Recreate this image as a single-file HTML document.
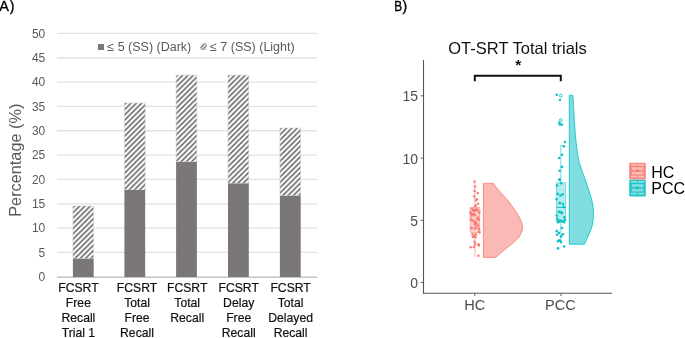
<!DOCTYPE html>
<html><head><meta charset="utf-8"><style>
html,body{margin:0;padding:0;background:#fff;width:685px;height:338px;overflow:hidden}
svg{display:block;will-change:transform;filter:blur(0.3px);font-family:"Liberation Sans",sans-serif}
.tk{font-size:12px;fill:#595959}
.lg{font-size:12.5px;fill:#595959}
.cat{font-size:12.2px;fill:#111;stroke:#111;stroke-width:0.2px}
.ytl{font-size:16.3px;fill:#595959}
.pl{font-size:14px;fill:#000;stroke:#000;stroke-width:0.35px}
.ttl{font-size:16.5px;fill:#111}
.ast{font-size:15.5px;fill:#111;font-weight:bold}
.tkb{font-size:14px;fill:#4d4d4d}
.tkx{font-size:14.6px;fill:#4d4d4d}
.lgb{font-size:16px;fill:#000}
</style></head><body>
<svg width="685" height="338" viewBox="0 0 685 338">
<defs>
<pattern id="hatch" patternUnits="userSpaceOnUse" width="5.3" height="5.3">
<rect width="5.3" height="5.3" fill="#f9f9f9"/>
<path d="M-1.325,1.325 L1.325,-1.325 M0,5.3 L5.3,0 M3.975,6.625 L6.625,3.975" stroke="#575353" stroke-width="1.35"/>
</pattern>
<pattern id="hatch2" patternUnits="userSpaceOnUse" width="3" height="3">
<rect width="3" height="3" fill="#e0e0e0"/>
<path d="M-0.75,0.75 L0.75,-0.75 M0,3 L3,0 M2.25,3.75 L3.75,2.25" stroke="#8a8a8a" stroke-width="1"/>
</pattern>
</defs>
<rect width="685" height="338" fill="#fff"/>
<line x1="57" y1="252.46" x2="317" y2="252.46" stroke="#e2e2e2" stroke-width="1.3"/>
<line x1="57" y1="228.12" x2="317" y2="228.12" stroke="#e2e2e2" stroke-width="1.3"/>
<line x1="57" y1="203.78" x2="317" y2="203.78" stroke="#e2e2e2" stroke-width="1.3"/>
<line x1="57" y1="179.44" x2="317" y2="179.44" stroke="#e2e2e2" stroke-width="1.3"/>
<line x1="57" y1="155.10" x2="317" y2="155.10" stroke="#e2e2e2" stroke-width="1.3"/>
<line x1="57" y1="130.76" x2="317" y2="130.76" stroke="#e2e2e2" stroke-width="1.3"/>
<line x1="57" y1="106.42" x2="317" y2="106.42" stroke="#e2e2e2" stroke-width="1.3"/>
<line x1="57" y1="82.08" x2="317" y2="82.08" stroke="#e2e2e2" stroke-width="1.3"/>
<line x1="57" y1="57.74" x2="317" y2="57.74" stroke="#e2e2e2" stroke-width="1.3"/>
<line x1="57" y1="33.40" x2="317" y2="33.40" stroke="#e2e2e2" stroke-width="1.3"/>
<line x1="57" y1="277.2" x2="317" y2="277.2" stroke="#c4c4c4" stroke-width="1.4"/>
<text x="45.3" y="281.1" text-anchor="end" class="tk">0</text>
<text x="45.3" y="256.8" text-anchor="end" class="tk">5</text>
<text x="45.3" y="232.4" text-anchor="end" class="tk">10</text>
<text x="45.3" y="208.1" text-anchor="end" class="tk">15</text>
<text x="45.3" y="183.7" text-anchor="end" class="tk">20</text>
<text x="45.3" y="159.4" text-anchor="end" class="tk">25</text>
<text x="45.3" y="135.1" text-anchor="end" class="tk">30</text>
<text x="45.3" y="110.7" text-anchor="end" class="tk">35</text>
<text x="45.3" y="86.4" text-anchor="end" class="tk">40</text>
<text x="45.3" y="62.0" text-anchor="end" class="tk">45</text>
<text x="45.3" y="37.7" text-anchor="end" class="tk">50</text>
<pattern id="h0" patternUnits="userSpaceOnUse" x="74.40" y="206.00" width="5.3" height="5.3"><rect width="5.3" height="5.3" fill="#f9f9f9"/><path d="M-1.325,1.325 L1.325,-1.325 M0,5.3 L5.3,0 M3.975,6.625 L6.625,3.975" stroke="#575353" stroke-width="1.35"/></pattern>
<rect x="72.9" y="206.0" width="20.8" height="52.8" fill="url(#h0)" stroke="#d4d4d4" stroke-width="0.6"/>
<rect x="72.9" y="258.8" width="20.8" height="18.2" fill="#7b7777"/>
<pattern id="h1" patternUnits="userSpaceOnUse" x="125.90" y="103.00" width="5.3" height="5.3"><rect width="5.3" height="5.3" fill="#f9f9f9"/><path d="M-1.325,1.325 L1.325,-1.325 M0,5.3 L5.3,0 M3.975,6.625 L6.625,3.975" stroke="#575353" stroke-width="1.35"/></pattern>
<rect x="124.4" y="103.0" width="20.8" height="87.0" fill="url(#h1)" stroke="#d4d4d4" stroke-width="0.6"/>
<rect x="124.4" y="190.0" width="20.8" height="87.0" fill="#7b7777"/>
<pattern id="h2" patternUnits="userSpaceOnUse" x="177.60" y="75.10" width="5.3" height="5.3"><rect width="5.3" height="5.3" fill="#f9f9f9"/><path d="M-1.325,1.325 L1.325,-1.325 M0,5.3 L5.3,0 M3.975,6.625 L6.625,3.975" stroke="#575353" stroke-width="1.35"/></pattern>
<rect x="176.1" y="75.1" width="20.8" height="86.9" fill="url(#h2)" stroke="#d4d4d4" stroke-width="0.6"/>
<rect x="176.1" y="162.0" width="20.8" height="115.0" fill="#7b7777"/>
<pattern id="h3" patternUnits="userSpaceOnUse" x="229.50" y="75.10" width="5.3" height="5.3"><rect width="5.3" height="5.3" fill="#f9f9f9"/><path d="M-1.325,1.325 L1.325,-1.325 M0,5.3 L5.3,0 M3.975,6.625 L6.625,3.975" stroke="#575353" stroke-width="1.35"/></pattern>
<rect x="228.0" y="75.1" width="20.8" height="108.4" fill="url(#h3)" stroke="#d4d4d4" stroke-width="0.6"/>
<rect x="228.0" y="183.5" width="20.8" height="93.5" fill="#7b7777"/>
<pattern id="h4" patternUnits="userSpaceOnUse" x="281.40" y="128.00" width="5.3" height="5.3"><rect width="5.3" height="5.3" fill="#f9f9f9"/><path d="M-1.325,1.325 L1.325,-1.325 M0,5.3 L5.3,0 M3.975,6.625 L6.625,3.975" stroke="#575353" stroke-width="1.35"/></pattern>
<rect x="279.9" y="128.0" width="20.8" height="67.8" fill="url(#h4)" stroke="#d4d4d4" stroke-width="0.6"/>
<rect x="279.9" y="195.8" width="20.8" height="81.2" fill="#7b7777"/>
<rect x="98" y="44" width="6" height="6" fill="#7b7777"/>
<text x="107.3" y="51.3" class="lg">≤ 5 (SS) (Dark)</text>
<clipPath id="lgc"><rect x="200.3" y="43.3" width="6.6" height="6.6"/></clipPath>
<g clip-path="url(#lgc)"><rect x="200.3" y="43.3" width="6.6" height="6.6" fill="#e6e6e6"/><path d="M199.8,48.6 L205.6,42.8 M201.6,50.6 L207.6,44.6" stroke="#7e7e7e" stroke-width="1.3"/></g>
<text x="210" y="51.3" class="lg">≤ 7 (SS) (Light)</text>
<text x="78.4" y="292.2" text-anchor="middle" class="cat">FCSRT</text>
<text x="78.4" y="307.2" text-anchor="middle" class="cat">Free</text>
<text x="78.4" y="322.3" text-anchor="middle" class="cat">Recall</text>
<text x="78.4" y="337.4" text-anchor="middle" class="cat">Trial 1</text>
<text x="137.0" y="292.2" text-anchor="middle" class="cat">FCSRT</text>
<text x="137.0" y="307.2" text-anchor="middle" class="cat">Total</text>
<text x="137.0" y="322.3" text-anchor="middle" class="cat">Free</text>
<text x="137.0" y="337.4" text-anchor="middle" class="cat">Recall</text>
<text x="187.2" y="292.2" text-anchor="middle" class="cat">FCSRT</text>
<text x="187.2" y="307.2" text-anchor="middle" class="cat">Total</text>
<text x="187.2" y="322.3" text-anchor="middle" class="cat">Recall</text>
<text x="238.7" y="292.2" text-anchor="middle" class="cat">FCSRT</text>
<text x="238.7" y="307.2" text-anchor="middle" class="cat">Delay</text>
<text x="238.7" y="322.3" text-anchor="middle" class="cat">Free</text>
<text x="238.7" y="337.4" text-anchor="middle" class="cat">Recall</text>
<text x="290.6" y="292.2" text-anchor="middle" class="cat">FCSRT</text>
<text x="290.6" y="307.2" text-anchor="middle" class="cat">Total</text>
<text x="290.6" y="322.3" text-anchor="middle" class="cat">Delayed</text>
<text x="290.6" y="337.4" text-anchor="middle" class="cat">Recall</text>
<text transform="translate(21.4,160.2) rotate(-90)" text-anchor="middle" class="ytl">Percentage (%)</text>
<text x="-0.7" y="11.3" class="pl" style="font-size:14.5px">A</text>
<text x="9.8" y="10.8" class="pl">)</text>
<text transform="translate(394.3,11.3) scale(0.84,1)" class="pl">B</text>
<text x="402.4" y="11.1" class="pl">)</text>
<text x="517.5" y="54.2" text-anchor="middle" class="ttl">OT-SRT Total trials</text>
<text x="518.2" y="69.6" text-anchor="middle" class="ast">*</text>
<path d="M474.8,81.2 V75.7 H560.8 V81.2" fill="none" stroke="#111" stroke-width="2"/>
<path d="M483.4,183.4 L493.5,183.4 C494.2,184.3 495.8,186.8 497.5,188.9 C499.2,191.0 501.8,193.8 503.7,196.0 C505.6,198.2 507.3,200.0 509.1,202.2 C510.9,204.4 512.9,207.1 514.4,209.3 C515.9,211.5 517.2,213.4 518.4,215.5 C519.6,217.6 520.7,220.2 521.4,222.0 C522.1,223.8 522.4,225.1 522.5,226.6 C522.6,228.1 522.4,229.4 521.9,231.1 C521.4,232.8 520.6,234.9 519.2,236.8 C517.8,238.7 515.4,240.9 513.6,242.6 C511.8,244.3 510.1,245.3 508.2,246.8 C506.3,248.3 504.1,250.0 502.0,251.8 C499.9,253.6 496.8,256.5 495.8,257.4 L483.4,257.4 Z" fill="#fbb9b5" stroke="#f8766d" stroke-width="0.8"/>
<path d="M569.3,95.3 L572.8,95.3 C572.9,96.5 573.2,99.3 573.4,102.7 C573.6,106.1 573.9,111.2 574.1,115.5 C574.4,119.8 574.5,123.6 574.9,128.2 C575.2,132.8 575.6,138.1 576.2,143.1 C576.8,148.1 577.6,154.2 578.3,158.0 C579.0,161.8 579.6,163.3 580.4,166.0 C581.2,168.7 582.2,171.2 583.2,174.2 C584.2,177.1 585.6,180.5 586.7,183.7 C587.8,186.9 588.9,190.5 589.7,193.2 C590.6,195.9 591.2,197.4 591.8,200.0 C592.4,202.6 593.0,205.9 593.3,208.9 C593.5,211.9 593.5,215.1 593.3,217.8 C593.1,220.5 592.9,222.7 592.3,225.2 C591.7,227.7 590.6,230.2 589.7,232.6 C588.8,234.9 587.6,237.4 586.7,239.3 C585.8,241.2 584.9,243.4 584.5,244.2 L569.3,244.2 Z" fill="#80dddf" stroke="#00bfc4" stroke-width="0.8"/>
<line x1="474.9" y1="181" x2="474.9" y2="257.4" stroke="#f8766d" stroke-width="0.7" opacity="0.8"/>
<rect x="470.1" y="207.3" width="9.7" height="25.2" fill="#fccfcc" stroke="#f8766d" stroke-width="0.6" stroke-opacity="0.7"/>
<line x1="470.1" y1="220.2" x2="479.8" y2="220.2" stroke="#f8766d" stroke-width="0.6" opacity="0.7"/>
<line x1="560.8" y1="145.6" x2="560.8" y2="244" stroke="#00bfc4" stroke-width="0.7" opacity="0.8"/>
<line x1="560.8" y1="145.6" x2="563.5" y2="145.6" stroke="#00bfc4" stroke-width="0.7" opacity="0.8"/>
<rect x="556.4" y="182.8" width="9.4" height="38.2" fill="#b3ecee" stroke="#00bfc4" stroke-width="0.6" stroke-opacity="0.7"/>
<line x1="556.4" y1="207.4" x2="565.8" y2="207.4" stroke="#00bfc4" stroke-width="1" opacity="0.9"/>
<circle cx="474.5" cy="181.5" r="1.3" fill="#f8766d" fill-opacity="0.9"/>
<circle cx="475.0" cy="186.5" r="1.3" fill="#f8766d" fill-opacity="0.9"/>
<circle cx="474.5" cy="191.0" r="1.3" fill="#f8766d" fill-opacity="0.9"/>
<circle cx="477.8" cy="193.1" r="1.3" fill="#f8766d" fill-opacity="0.9"/>
<circle cx="474.2" cy="196.3" r="1.3" fill="#f8766d" fill-opacity="0.9"/>
<circle cx="476.8" cy="199.3" r="1.3" fill="#f8766d" fill-opacity="0.9"/>
<circle cx="476.0" cy="200.3" r="1.3" fill="#f8766d" fill-opacity="0.9"/>
<circle cx="478.1" cy="203.7" r="1.3" fill="#f8766d" fill-opacity="0.9"/>
<circle cx="475.3" cy="206.1" r="1.3" fill="#f8766d" fill-opacity="0.9"/>
<circle cx="475.5" cy="205.6" r="1.3" fill="#f8766d" fill-opacity="0.9"/>
<circle cx="470.5" cy="212.4" r="1.3" fill="#f8766d" fill-opacity="0.9"/>
<circle cx="479.4" cy="212.4" r="1.3" fill="#f8766d" fill-opacity="0.9"/>
<circle cx="474.6" cy="210.9" r="1.3" fill="#f8766d" fill-opacity="0.9"/>
<circle cx="477.6" cy="210.3" r="1.3" fill="#f8766d" fill-opacity="0.9"/>
<circle cx="472.5" cy="234.2" r="1.3" fill="#f8766d" fill-opacity="0.9"/>
<circle cx="474.2" cy="235.5" r="1.3" fill="#f8766d" fill-opacity="0.9"/>
<circle cx="476.0" cy="234.5" r="1.3" fill="#f8766d" fill-opacity="0.9"/>
<circle cx="473.0" cy="237.0" r="1.3" fill="#f8766d" fill-opacity="0.9"/>
<circle cx="475.5" cy="237.3" r="1.3" fill="#f8766d" fill-opacity="0.9"/>
<circle cx="474.6" cy="241.9" r="1.3" fill="#f8766d" fill-opacity="0.9"/>
<circle cx="475.0" cy="244.5" r="1.3" fill="#f8766d" fill-opacity="0.9"/>
<circle cx="478.5" cy="244.4" r="1.3" fill="#f8766d" fill-opacity="0.9"/>
<circle cx="478.9" cy="245.4" r="1.3" fill="#f8766d" fill-opacity="0.9"/>
<circle cx="470.7" cy="247.2" r="1.3" fill="#f8766d" fill-opacity="0.9"/>
<circle cx="473.9" cy="247.1" r="1.3" fill="#f8766d" fill-opacity="0.9"/>
<circle cx="478.5" cy="255.7" r="1.3" fill="#f8766d" fill-opacity="0.9"/>
<circle cx="474.7" cy="221.9" r="1.3" fill="#f8766d" fill-opacity="0.9"/>
<circle cx="478.7" cy="219.7" r="1.3" fill="#f8766d" fill-opacity="0.9"/>
<circle cx="475.2" cy="222.6" r="1.3" fill="#f8766d" fill-opacity="0.9"/>
<circle cx="472.4" cy="220.8" r="1.3" fill="#f8766d" fill-opacity="0.9"/>
<circle cx="476.2" cy="227.5" r="1.3" fill="#f8766d" fill-opacity="0.9"/>
<circle cx="471.6" cy="215.8" r="1.3" fill="#f8766d" fill-opacity="0.9"/>
<circle cx="471.6" cy="227.9" r="1.3" fill="#f8766d" fill-opacity="0.9"/>
<circle cx="476.8" cy="209.5" r="1.3" fill="#f8766d" fill-opacity="0.9"/>
<circle cx="479.2" cy="231.7" r="1.3" fill="#f8766d" fill-opacity="0.9"/>
<circle cx="476.4" cy="223.3" r="1.3" fill="#f8766d" fill-opacity="0.9"/>
<circle cx="472.2" cy="208.9" r="1.3" fill="#f8766d" fill-opacity="0.9"/>
<circle cx="475.3" cy="209.9" r="1.3" fill="#f8766d" fill-opacity="0.9"/>
<circle cx="472.4" cy="214.3" r="1.3" fill="#f8766d" fill-opacity="0.9"/>
<circle cx="471.1" cy="219.6" r="1.3" fill="#f8766d" fill-opacity="0.9"/>
<circle cx="474.6" cy="228.7" r="1.3" fill="#f8766d" fill-opacity="0.9"/>
<circle cx="475.3" cy="223.9" r="1.3" fill="#f8766d" fill-opacity="0.9"/>
<circle cx="475.1" cy="224.4" r="1.3" fill="#f8766d" fill-opacity="0.9"/>
<circle cx="474.7" cy="215.2" r="1.3" fill="#f8766d" fill-opacity="0.9"/>
<circle cx="479.4" cy="232.4" r="1.3" fill="#f8766d" fill-opacity="0.9"/>
<circle cx="478.0" cy="225.5" r="1.3" fill="#f8766d" fill-opacity="0.9"/>
<circle cx="473.5" cy="214.0" r="1.3" fill="#f8766d" fill-opacity="0.9"/>
<circle cx="473.3" cy="210.2" r="1.3" fill="#f8766d" fill-opacity="0.9"/>
<circle cx="477.4" cy="218.1" r="1.3" fill="#f8766d" fill-opacity="0.9"/>
<circle cx="478.1" cy="217.8" r="1.3" fill="#f8766d" fill-opacity="0.9"/>
<circle cx="479.0" cy="228.8" r="1.3" fill="#f8766d" fill-opacity="0.9"/>
<circle cx="470.8" cy="213.5" r="1.3" fill="#f8766d" fill-opacity="0.9"/>
<circle cx="556.8" cy="94.8" r="1.3" fill="#00bfc4" fill-opacity="0.95"/>
<circle cx="559.9" cy="100.0" r="1.3" fill="#00bfc4" fill-opacity="0.95"/>
<circle cx="559.3" cy="122.8" r="1.3" fill="#00bfc4" fill-opacity="0.95"/>
<circle cx="559.9" cy="124.6" r="1.3" fill="#00bfc4" fill-opacity="0.95"/>
<circle cx="561.8" cy="124.6" r="1.3" fill="#00bfc4" fill-opacity="0.95"/>
<circle cx="564.9" cy="142.0" r="1.3" fill="#00bfc4" fill-opacity="0.95"/>
<circle cx="563.8" cy="146.2" r="1.3" fill="#00bfc4" fill-opacity="0.95"/>
<circle cx="562.0" cy="154.7" r="1.3" fill="#00bfc4" fill-opacity="0.95"/>
<circle cx="559.2" cy="158.0" r="1.3" fill="#00bfc4" fill-opacity="0.95"/>
<circle cx="562.0" cy="166.9" r="1.3" fill="#00bfc4" fill-opacity="0.95"/>
<circle cx="559.6" cy="170.8" r="1.3" fill="#00bfc4" fill-opacity="0.95"/>
<circle cx="559.6" cy="179.3" r="1.3" fill="#00bfc4" fill-opacity="0.95"/>
<circle cx="559.6" cy="180.0" r="1.3" fill="#00bfc4" fill-opacity="0.95"/>
<circle cx="561.1" cy="183.3" r="1.3" fill="#00bfc4" fill-opacity="0.95"/>
<circle cx="557.0" cy="185.6" r="1.3" fill="#00bfc4" fill-opacity="0.95"/>
<circle cx="557.8" cy="193.7" r="1.3" fill="#00bfc4" fill-opacity="0.95"/>
<circle cx="560.4" cy="195.6" r="1.3" fill="#00bfc4" fill-opacity="0.95"/>
<circle cx="562.6" cy="194.4" r="1.3" fill="#00bfc4" fill-opacity="0.95"/>
<circle cx="556.7" cy="199.3" r="1.3" fill="#00bfc4" fill-opacity="0.95"/>
<circle cx="560.0" cy="203.0" r="1.3" fill="#00bfc4" fill-opacity="0.95"/>
<circle cx="563.0" cy="204.1" r="1.3" fill="#00bfc4" fill-opacity="0.95"/>
<circle cx="559.6" cy="203.0" r="1.3" fill="#00bfc4" fill-opacity="0.95"/>
<circle cx="563.7" cy="207.0" r="1.3" fill="#00bfc4" fill-opacity="0.95"/>
<circle cx="558.9" cy="211.9" r="1.3" fill="#00bfc4" fill-opacity="0.95"/>
<circle cx="561.1" cy="212.2" r="1.3" fill="#00bfc4" fill-opacity="0.95"/>
<circle cx="561.9" cy="213.0" r="1.3" fill="#00bfc4" fill-opacity="0.95"/>
<circle cx="556.7" cy="215.6" r="1.3" fill="#00bfc4" fill-opacity="0.95"/>
<circle cx="564.4" cy="217.4" r="1.3" fill="#00bfc4" fill-opacity="0.95"/>
<circle cx="557.4" cy="218.9" r="1.3" fill="#00bfc4" fill-opacity="0.95"/>
<circle cx="559.6" cy="221.1" r="1.3" fill="#00bfc4" fill-opacity="0.95"/>
<circle cx="562.2" cy="221.5" r="1.3" fill="#00bfc4" fill-opacity="0.95"/>
<circle cx="564.8" cy="220.0" r="1.3" fill="#00bfc4" fill-opacity="0.95"/>
<circle cx="558.1" cy="222.2" r="1.3" fill="#00bfc4" fill-opacity="0.95"/>
<circle cx="564.1" cy="222.2" r="1.3" fill="#00bfc4" fill-opacity="0.95"/>
<circle cx="558.0" cy="221.8" r="1.3" fill="#00bfc4" fill-opacity="0.95"/>
<circle cx="560.5" cy="220.5" r="1.3" fill="#00bfc4" fill-opacity="0.95"/>
<circle cx="562.0" cy="228.0" r="1.3" fill="#00bfc4" fill-opacity="0.95"/>
<circle cx="556.7" cy="231.1" r="1.3" fill="#00bfc4" fill-opacity="0.95"/>
<circle cx="558.9" cy="232.9" r="1.3" fill="#00bfc4" fill-opacity="0.95"/>
<circle cx="557.1" cy="234.7" r="1.3" fill="#00bfc4" fill-opacity="0.95"/>
<circle cx="562.9" cy="234.2" r="1.3" fill="#00bfc4" fill-opacity="0.95"/>
<circle cx="561.1" cy="236.4" r="1.3" fill="#00bfc4" fill-opacity="0.95"/>
<circle cx="558.0" cy="241.3" r="1.3" fill="#00bfc4" fill-opacity="0.95"/>
<circle cx="559.3" cy="240.4" r="1.3" fill="#00bfc4" fill-opacity="0.95"/>
<circle cx="561.1" cy="241.8" r="1.3" fill="#00bfc4" fill-opacity="0.95"/>
<circle cx="564.2" cy="246.5" r="1.3" fill="#00bfc4" fill-opacity="0.95"/>
<circle cx="558.0" cy="248.4" r="1.3" fill="#00bfc4" fill-opacity="0.95"/>
<circle cx="560.9" cy="95.7" r="1.4" fill="none" stroke="#00bfc4" stroke-width="0.8"/>
<circle cx="560.9" cy="120" r="1.4" fill="none" stroke="#00bfc4" stroke-width="0.8"/>
<line x1="423.5" y1="60" x2="423.5" y2="293.3" stroke="#555" stroke-width="1.1"/>
<line x1="423" y1="293.3" x2="612" y2="293.3" stroke="#555" stroke-width="1.1"/>
<line x1="420.6" y1="282.5" x2="423.5" y2="282.5" stroke="#555" stroke-width="0.9"/>
<text x="418" y="288.0" text-anchor="end" class="tkb">0</text>
<line x1="420.6" y1="220.3" x2="423.5" y2="220.3" stroke="#555" stroke-width="0.9"/>
<text x="418" y="225.8" text-anchor="end" class="tkb">5</text>
<line x1="420.6" y1="158.0" x2="423.5" y2="158.0" stroke="#555" stroke-width="0.9"/>
<text x="418" y="163.5" text-anchor="end" class="tkb">10</text>
<line x1="420.6" y1="95.8" x2="423.5" y2="95.8" stroke="#555" stroke-width="0.9"/>
<text x="418" y="101.3" text-anchor="end" class="tkb">15</text>
<line x1="474.8" y1="293.3" x2="474.8" y2="296" stroke="#555" stroke-width="0.9"/>
<text x="474.8" y="309.7" text-anchor="middle" class="tkx">HC</text>
<line x1="560.9" y1="293.3" x2="560.9" y2="296" stroke="#555" stroke-width="0.9"/>
<text x="560.4" y="309.7" text-anchor="middle" class="tkx">PCC</text>
<rect x="629.2" y="162.8" width="16.6" height="16.6" rx="1" fill="#f8857d"/><rect x="631.0" y="163.9" width="5.9" height="2.0" fill="#fbb9b4"/><rect x="637.9" y="163.9" width="6.3" height="2.0" fill="#fbb9b4"/><rect x="631.8" y="167.2" width="11.6" height="3.0" fill="#fbb9b4"/><rect x="631.8" y="171.7" width="11.6" height="2.8" fill="#fbb9b4"/><rect x="631.0" y="175.7" width="5.9" height="2.0" fill="#fbb9b4"/><rect x="637.9" y="175.7" width="6.3" height="2.0" fill="#fbb9b4"/><circle cx="637.4" cy="170.7" r="1.2" fill="#f4675e"/>
<rect x="629.2" y="179.8" width="16.6" height="16.6" rx="1" fill="#22c6ca"/><rect x="631.0" y="180.9" width="5.9" height="2.0" fill="#84dcde"/><rect x="637.9" y="180.9" width="6.3" height="2.0" fill="#84dcde"/><rect x="631.8" y="184.2" width="11.6" height="3.0" fill="#84dcde"/><rect x="631.8" y="188.7" width="11.6" height="2.8" fill="#84dcde"/><rect x="631.0" y="192.7" width="5.9" height="2.0" fill="#84dcde"/><rect x="637.9" y="192.7" width="6.3" height="2.0" fill="#84dcde"/><circle cx="637.4" cy="187.7" r="1.2" fill="#00b2b7"/>
<text x="651.3" y="177.7" class="lgb">HC</text>
<text x="651.3" y="194.4" class="lgb">PCC</text>
</svg>
</body></html>
